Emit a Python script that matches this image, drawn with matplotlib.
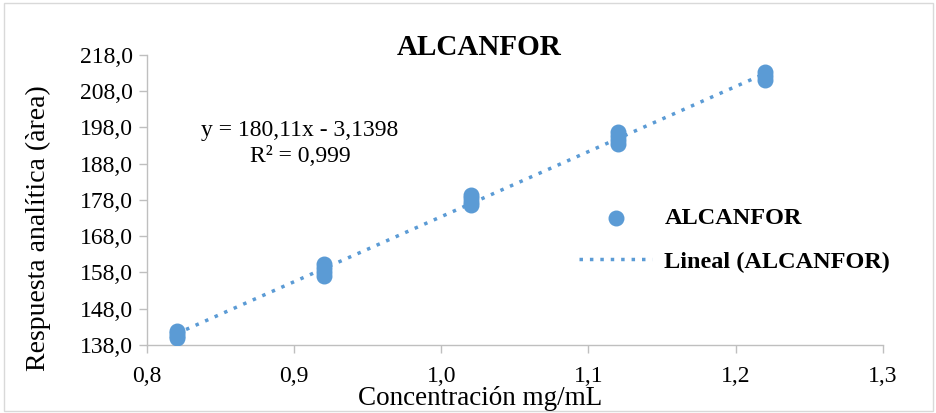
import numpy as np
import matplotlib.pyplot as plt
from matplotlib.patches import Rectangle

plt.rcParams['font.family'] = ['Liberation Serif', 'DejaVu Serif']

conc = [0.82, 0.82, 0.82, 0.82,
        0.92, 0.92, 0.92, 0.92,
        1.02, 1.02, 1.02, 1.02,
        1.12, 1.12, 1.12, 1.12,
        1.22, 1.22, 1.22]
area = [139.9, 140.5, 141.2, 141.8,
        157.0, 158.0, 159.2, 160.3,
        176.6, 177.5, 178.4, 179.4,
        193.3, 194.5, 195.7, 196.7,
        211.2, 212.2, 213.2]

x_ticks = [0.8, 0.9, 1.0, 1.1, 1.2, 1.3]
y_ticks = [138, 148, 158, 168, 178, 188, 198, 208, 218]
eq_text = "y = 180,11x - 3,1398\nR² = 0,999"

blue = "#5B9BD5"
gray = "#BFBFBF"

fig = plt.figure(figsize=(9.37, 4.13), dpi=100)
fig.patches.append(Rectangle((0.004, 0.005), 0.992, 0.988, transform=fig.transFigure,
                             fill=False, edgecolor="#D9D9D9", linewidth=1))
ax = fig.add_axes([0.157, 0.165, 0.785, 0.702])

ax.scatter(conc, area, s=110, color=blue, zorder=3, label="ALCANFOR")

# Linear trend line
m, b = np.polyfit(conc, area, 1)
xs = np.array([min(conc), max(conc)])
ax.plot(xs, m * xs + b, linestyle=(0, (1, 2)), color=blue, linewidth=2.5,
        label="Lineal (ALCANFOR)", zorder=2)

ax.set_xlim(0.8, 1.3)
ax.set_ylim(138, 218)
ax.set_xticks(x_ticks)
ax.set_xticklabels([f"{v:.1f}".replace(".", ",") for v in x_ticks])
ax.set_yticks(y_ticks)
ax.set_yticklabels([f"{v:.1f}".replace(".", ",") for v in y_ticks])
ax.tick_params(labelsize=17, color=gray, length=6, width=1)
ax.tick_params(axis="x", pad=9)
ax.tick_params(axis="y", pad=4)

for side in ["top", "right"]:
    ax.spines[side].set_visible(False)
for side in ["left", "bottom"]:
    ax.spines[side].set_color(gray)
    ax.spines[side].set_linewidth(1)

fig.text(0.512, 0.036, "Concentración mg/mL", fontsize=19.5, ha="center", va="center")
fig.text(0.041, 0.448, "Respuesta analítica (àrea)", fontsize=20, rotation=90,
         ha="center", va="center")
fig.text(0.511, 0.886, "ALCANFOR", fontsize=21, fontweight="bold", ha="center", va="center")

fig.text(0.32, 0.653, eq_text, fontsize=17, ha="center", va="center", linespacing=1.35)

ax.legend(loc="center left", bbox_to_anchor=(0.595, 0.419), bbox_transform=fig.transFigure,
          frameon=False, prop={"size": 17.5, "weight": "bold"}, handlelength=3.0,
          handletextpad=0.5, labelspacing=0.9)

plt.savefig("out.png", dpi=100)
